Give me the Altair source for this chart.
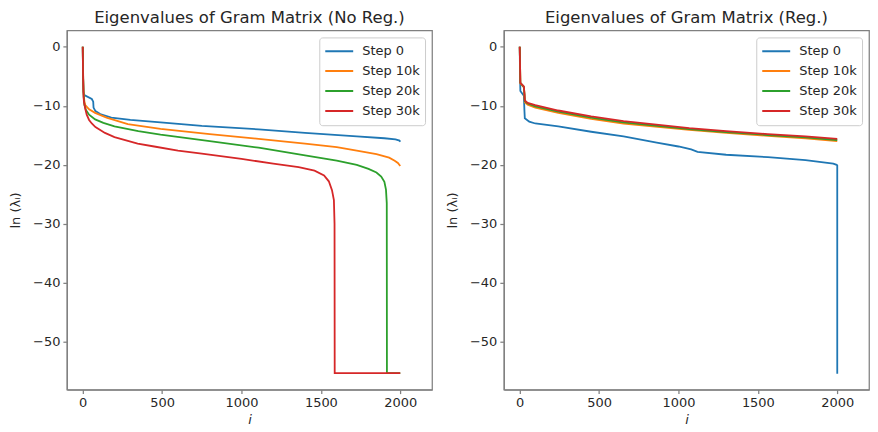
import altair as alt
import pandas as pd

steps = ["Step 0", "Step 10k", "Step 20k", "Step 30k"]
colors = ["#1f77b4", "#ff7f0e", "#2ca02c", "#d62728"]
x_ticks = [0, 500, 1000, 1500, 2000]
y_ticks = [0, -10, -20, -30, -40, -50]

# ---- Left panel (No Reg.) ----
nr0_i = [0, 2, 5, 10, 57, 66, 68, 80, 110, 180, 300, 490, 750, 1108, 1400, 1726, 1900, 1970, 1995, 2000]
nr0_v = [0, -4.5, -7.6, -8.2, -8.85, -9.3, -10.3, -10.9, -11.4, -12.0, -12.4, -12.8, -13.4, -14.0, -14.6, -15.2, -15.5, -15.7, -15.9, -16.1]

nr10_i = [0, 2, 5, 10, 16, 40, 78, 150, 284, 490, 800, 1108, 1400, 1600, 1726, 1850, 1930, 1965, 1985, 2000]
nr10_v = [0, -4.0, -7.5, -9.2, -9.9, -10.6, -11.2, -12.0, -13.1, -13.9, -14.8, -15.6, -16.4, -17.0, -17.6, -18.2, -18.8, -19.3, -19.7, -20.2]

nr20_i = [0, 2, 5, 10, 20, 40, 78, 130, 200, 350, 490, 800, 1108, 1400, 1600, 1726, 1800, 1850, 1880, 1900, 1910, 1915, 1916, 2000]
nr20_v = [0, -5.0, -8.0, -9.8, -10.7, -11.5, -12.3, -12.9, -13.5, -14.3, -14.9, -16.0, -17.1, -18.4, -19.3, -20.0, -20.7, -21.3, -22.0, -22.9, -24.2, -26.5, -55.3, -55.3]

nr30_i = [0, 2, 5, 8, 16, 25, 40, 57, 80, 140, 200, 346, 450, 600, 750, 1000, 1200, 1360, 1460, 1520, 1550, 1570, 1582, 1586, 1587, 2000]
nr30_v = [0, -5.0, -8.5, -9.4, -10.5, -11.5, -12.4, -13.0, -13.6, -14.6, -15.3, -16.4, -16.9, -17.6, -18.1, -19.0, -19.8, -20.4, -21.0, -21.8, -22.8, -24.3, -26.0, -30.0, -55.3, -55.3]

# ---- Right panel (Reg.) ----
r0_i = [0, 2, 4, 26, 30, 32, 60, 98, 243, 450, 654, 863, 1000, 1080, 1120, 1300, 1563, 1800, 1975, 1996, 2000, 2000]
r0_v = [0, -5.0, -7.5, -8.3, -11.0, -12.1, -12.7, -13.0, -13.5, -14.4, -15.2, -16.25, -16.9, -17.4, -17.8, -18.3, -18.7, -19.2, -19.8, -20.0, -20.1, -55.4]

r_i = [0, 2, 4, 26, 30, 32, 50, 98, 243, 450, 654, 1068, 1300, 1563, 1800, 2000]
r10_v = [0, -3.0, -6.2, -6.9, -8.3, -9.4, -9.8, -10.3, -11.2, -12.2, -13.0, -14.1, -14.6, -15.1, -15.5, -16.0]
r20_v = [0, -3.0, -6.1, -6.8, -8.1, -9.2, -9.6, -10.1, -11.0, -12.0, -12.8, -13.95, -14.45, -14.95, -15.35, -15.8]
r30_v = [0, -3.0, -6.1, -6.7, -8.0, -9.1, -9.5, -9.9, -10.8, -11.8, -12.6, -13.8, -14.3, -14.8, -15.2, -15.6]


def frame(series):
    rows = []
    for name, xs, ys in series:
        for k, (a, b) in enumerate(zip(xs, ys)):
            rows.append({"step": name, "i": a, "v": b, "k": k})
    return pd.DataFrame(rows)


left_df = frame([
    (steps[0], nr0_i, nr0_v),
    (steps[1], nr10_i, nr10_v),
    (steps[2], nr20_i, nr20_v),
    (steps[3], nr30_i, nr30_v),
])
right_df = frame([
    (steps[0], r0_i, r0_v),
    (steps[1], r_i, r10_v),
    (steps[2], r_i, r20_v),
    (steps[3], r_i, r30_v),
])

W, H = 366, 360


def panel(df, title):
    return alt.Chart(df, title=title).mark_line(strokeWidth=1.8).encode(
        x=alt.X("i:Q", scale=alt.Scale(domain=[-100, 2200], nice=False, zero=False),
                axis=alt.Axis(values=x_ticks, format="d", title="i",
                              titleFontStyle="italic", titlePadding=4)),
        y=alt.Y("v:Q", scale=alt.Scale(domain=[-58.1, 2.77], nice=False, zero=False),
                axis=alt.Axis(values=y_ticks, format="d", title="ln (λᵢ)", titlePadding=10)),
        color=alt.Color("step:N", scale=alt.Scale(domain=steps, range=colors),
                        legend=alt.Legend(title=None, orient="top-right", offset=7,
                                          fillColor="white", strokeColor="#cccccc",
                                          cornerRadius=3, padding=5, symbolType="stroke",
                                          symbolSize=784, symbolStrokeWidth=2,
                                          clipHeight=17.5, rowPadding=2, labelOffset=8,
                                          labelFontSize=13, labelFont="DejaVu Sans",
                                          labelColor="#262626")),
        order=alt.Order("k:Q"),
    ).properties(width=W, height=H)


left = panel(left_df, "Eigenvalues of Gram Matrix (No Reg.)")
right = panel(right_df, "Eigenvalues of Gram Matrix (Reg.)")

chart = alt.hconcat(left, right, spacing=72, bounds="flush").resolve_scale(
    color="independent"
).resolve_legend(color="independent").properties(padding=0).configure_view(
    stroke="#808080", strokeWidth=1.25
).configure_axis(
    grid=False, domainColor="#808080", domainWidth=1.25, tickColor="#808080",
    tickWidth=1.25, tickSize=4, labelPadding=3,
    labelFont="DejaVu Sans", labelFontSize=13, labelColor="#262626",
    titleFont="DejaVu Sans", titleFontSize=13, titleFontWeight="normal", titleColor="#262626"
).configure_title(
    font="DejaVu Sans", fontSize=16.5, fontWeight="normal", color="#262626", offset=4
)

chart.save("out.html", embed_options={"renderer": "svg", "actions": False})
